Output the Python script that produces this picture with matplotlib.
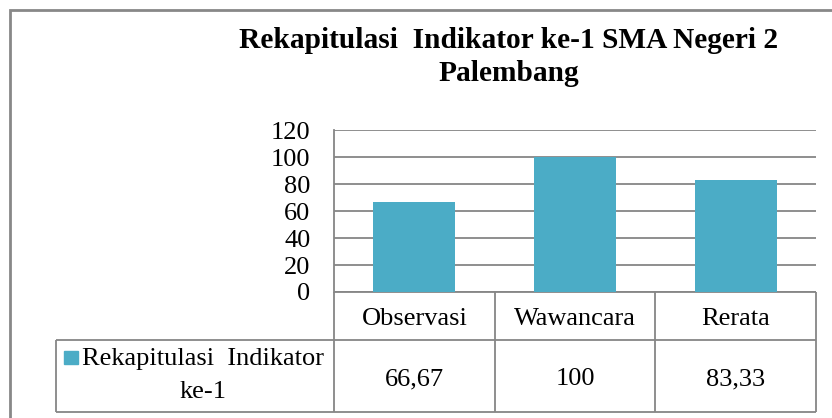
import matplotlib
matplotlib.use("Agg")
import matplotlib.pyplot as plt
from matplotlib.patches import Rectangle

# data
categories = ["Observasi", "Wawancara", "Rerata"]
values = [66.67, 100, 83.33]
series_lines = ["Rekapitulasi  Indikator", "ke-1"]
title_lines = ["Rekapitulasi  Indikator ke-1 SMA Negeri 2", "Palembang"]
yticks = [0, 20, 40, 60, 80, 100, 120]

bar_color = "#4bacc6"
line_color = "#868686"

plt.rcParams["font.family"] = ["Liberation Serif", "DejaVu Serif"]

W, H = 832, 418
fig = plt.figure(figsize=(W / 100, H / 100), dpi=100)

# layout in pixels (from top-left)
AX_L, AX_R, AX_T, AX_B = 334, 816, 130.3, 292
ROW1, TBL_B, LEG_L = 339.5, 411.5, 56
FS = 19

# overlay axes in pixel coords for border, table and title
ov = fig.add_axes([0, 0, 1, 1])
ov.set_xlim(0, W)
ov.set_ylim(H, 0)
ov.axis("off")

# outer chart border
ov.plot([9.5, 9.5, W + 5], [H + 5, 10, 10], color="#888888", lw=2.0,
        solid_joinstyle="miter", clip_on=False)

for txt, yb in zip(title_lines, [48, 81]):
    ov.text(509, yb, txt, ha="center", va="baseline", fontsize=21.2,
            fontweight="bold")

# main plot
ax = fig.add_axes([AX_L / W, (H - AX_B) / H, (AX_R - AX_L) / W, (AX_B - AX_T) / H])
x = range(len(categories))
ax.bar(x, values, width=0.51, color=bar_color, zorder=3)
ax.set_xlim(-0.5, len(categories) - 0.5)
ax.set_ylim(0, 120)
ax.set_yticks(yticks)
ax.set_yticklabels([str(t) for t in yticks], fontsize=FS)
ax.tick_params(axis="y", length=0, pad=17)
ax.set_xticks([])
ax.yaxis.grid(True, color=line_color, lw=1.3, zorder=0)
ax.set_axisbelow(True)
for s in ["top", "right", "bottom"]:
    ax.spines[s].set_visible(False)
ax.spines["left"].set_color(line_color)
ax.spines["left"].set_linewidth(1.3)
ax.patch.set_alpha(0)

# data table
col_w = (AX_R - AX_L) / len(categories)
cols = [AX_L + i * col_w for i in range(len(categories) + 1)]
ov.hlines([AX_B], AX_L, AX_R, color=line_color, lw=1.3)
ov.hlines([ROW1, TBL_B], LEG_L, AX_R, color=line_color, lw=1.3)
ov.vlines(cols, AX_B, TBL_B, color=line_color, lw=1.3)
ov.vlines([LEG_L], ROW1, TBL_B, color=line_color, lw=1.3)

for i, (c, v) in enumerate(zip(categories, values)):
    cx = (cols[i] + cols[i + 1]) / 2
    ov.text(cx, 325, c, ha="center", va="baseline", fontsize=FS)
    lbl = f"{v:g}".replace(".", ",")
    ov.text(cx, 385, lbl, ha="center", va="baseline", fontsize=FS)

ov.add_patch(Rectangle((64, 350.5), 13.5, 13.5, color=bar_color))
for txt, yb in zip(series_lines, [365.5, 398]):
    ov.text(203, yb, txt, ha="center", va="baseline", fontsize=FS)

fig.savefig("out.png", dpi=100)
